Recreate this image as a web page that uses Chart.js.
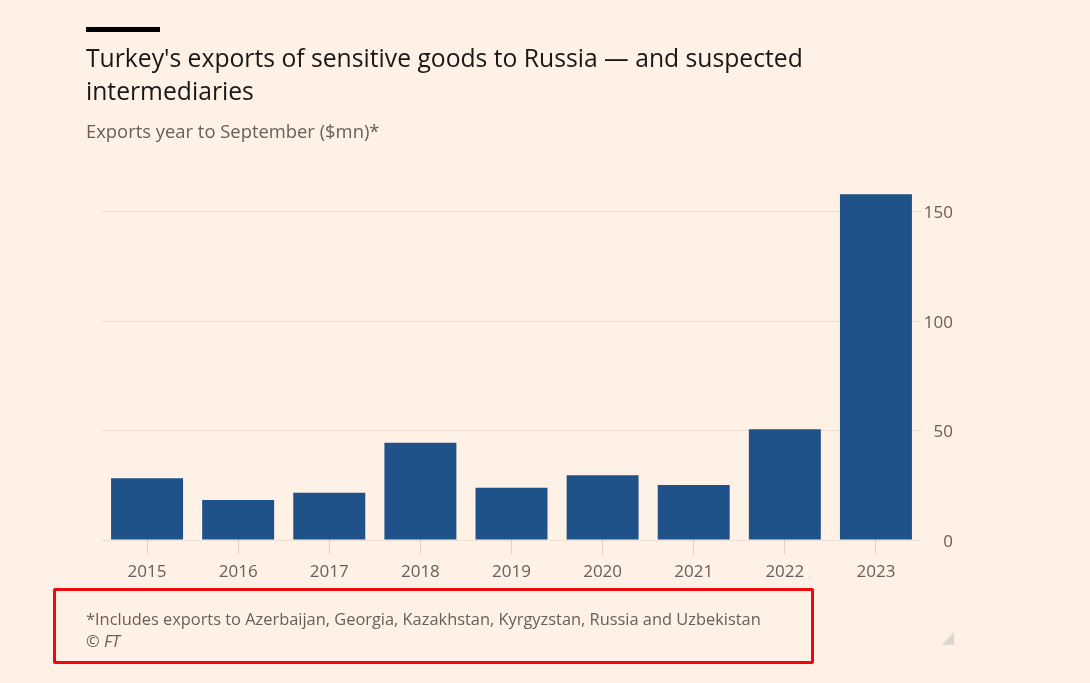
<!DOCTYPE html>
<html>
<head>
<meta charset="utf-8">
<script src="https://cdn.jsdelivr.net/npm/chart.js"></script>
<style>
  html, body { margin: 0; padding: 0; background: #fff1e5; }
  body { width: 1090px; height: 683px; position: relative; overflow: hidden; font-family: "Open Sans", sans-serif; }
  #chart-exports { position: absolute; left: 0; top: 0; }
  .rule { position: absolute; left: 86px; top: 27px; width: 74px; height: 5px; background: #000; }
  .title { position: absolute; left: 86px; top: 41px; font-size: 24.7px; line-height: 33px; color: #1a1817; }
  .sub { position: absolute; left: 86px; top: 118px; font-size: 18.4px; color: #66605c; }
  .note { position: absolute; left: 86px; top: 608px; font-size: 16.4px; line-height: 22px; color: #66605c; }
  .box { position: absolute; left: 53px; top: 588px; width: 755px; height: 68px; border: 3.5px solid #ee0a0a; border-radius: 2px; }
  .grip { position: absolute; left: 942px; top: 632px; width: 0; height: 0;
          border-left: 12px solid transparent; border-bottom: 13px solid #dcd6d0; }
</style>
</head>
<body>
<canvas id="chart-exports" width="1090" height="683"></canvas>
<div class="rule"></div>
<div class="title">Turkey's exports of sensitive goods to Russia — and suspected<br>intermediaries</div>
<div class="sub">Exports year to September ($mn)*</div>
<div class="note">*Includes exports to Azerbaijan, Georgia, Kazakhstan, Kyrgyzstan, Russia and Uzbekistan<br><i>© FT</i></div>
<div class="box" style="height:70px"></div>
<div class="grip"></div>
<script>
const years = ['2015', '2016', '2017', '2018', '2019', '2020', '2021', '2022', '2023'];
const exportsValues = [28.2, 18.3, 21.6, 44.4, 23.9, 29.6, 25.1, 50.6, 157.9];
const yTicks = [0, 50, 100, 150];

const chartExports = document.getElementById('chart-exports');

new Chart(chartExports, {
  type: 'bar',
  data: {
    labels: years,
    datasets: [{
      data: exportsValues,
      backgroundColor: '#1f5289',
      categoryPercentage: 1,
      barPercentage: 0.79
    }]
  },
  options: {
    responsive: false,
    animation: false,
    layout: {
      padding: { left: 101.5, top: 189.7, right: 137, bottom: 98 }
    },
    plugins: {
      legend: { display: false },
      tooltip: { enabled: false }
    },
    scales: {
      x: {
        grid: {
          offset: false,
          drawOnChartArea: false,
          tickLength: 14,
          color: '#ddd2c8'
        },
        border: { display: false },
        ticks: {
          color: '#66605c',
          padding: 8,
          font: { family: 'Open Sans', size: 17 }
        },
        afterFit: function(scale) { scale.height = 45; }
      },
      y: {
        position: 'right',
        min: 0,
        max: 160,
        afterBuildTicks: function(scale) {
          scale.ticks = yTicks.map(v => ({ value: v }));
        },
        grid: {
          drawTicks: false,
          color: 'rgba(90,60,30,0.09)'
        },
        border: { display: false },
        ticks: {
          color: '#66605c',
          padding: 2,
          labelOffset: 2,
          crossAlign: 'far',
          font: { family: 'Open Sans', size: 17 }
        },
        afterFit: function(scale) { scale.width = 31.5; }
      }
    }
  }
});
</script>
</body>
</html>
